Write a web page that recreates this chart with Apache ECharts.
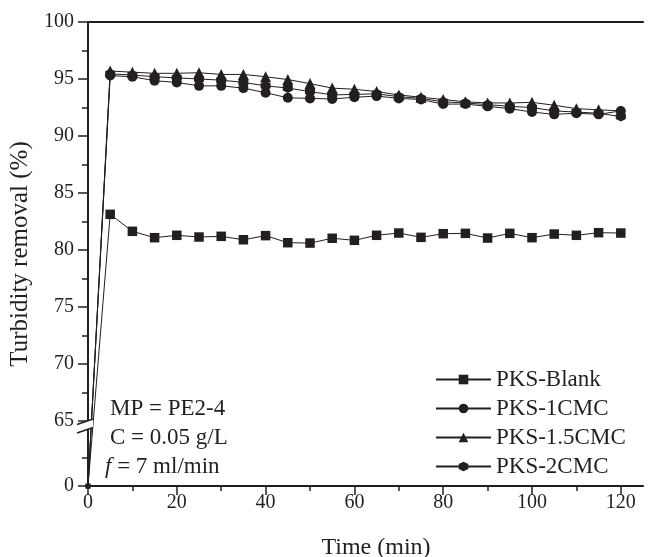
<!DOCTYPE html>
<html><head><meta charset="utf-8">
<script src="https://cdn.jsdelivr.net/npm/echarts@6/dist/echarts.min.js"></script>
<style>html,body{margin:0;padding:0;background:#fff}#c{width:656px;height:557px}</style>
</head><body><div id="c"></div>
<script>
// ---- data ----
const times = [0,5,10,15,20,25,30,35,40,45,50,55,60,65,70,75,80,85,90,95,100,105,110,115,120];
const blank = [0,83.13,81.64,81.08,81.29,81.14,81.2,80.9,81.26,80.64,80.61,81.03,80.85,81.29,81.49,81.11,81.43,81.46,81.05,81.46,81.08,81.4,81.29,81.52,81.49];
const cmc1  = [0,95.3,95.2,94.85,94.7,94.4,94.4,94.2,93.8,93.35,93.3,93.25,93.4,93.5,93.3,93.2,92.8,92.8,92.6,92.4,92.1,91.9,92.0,91.9,92.2];
const cmc15 = [0,95.7,95.6,95.5,95.5,95.55,95.4,95.4,95.2,94.95,94.6,94.2,94.1,93.9,93.6,93.4,93.2,93.0,92.9,92.9,92.95,92.7,92.4,92.3,92.2];
const cmc2  = [0,95.45,95.35,95.2,95.1,95.0,94.9,94.7,94.4,94.2,93.9,93.6,93.65,93.7,93.45,93.3,93.0,92.9,92.75,92.6,92.5,92.2,92.1,92.0,91.7];
const seriesNames = ['PKS-Blank','PKS-1CMC','PKS-1.5CMC','PKS-2CMC'];
const yTickLabels = [0,65,70,75,80,85,90,95,100];
const yMinorTicks = [28,67.5,72.5,77.5,82.5,87.5,92.5,97.5];
const xTickLabels = [0,20,40,60,80,100,120];
const xMinorTicks = [10,30,50,70,90,110];
const notes = ['MP = PE2-4','C = 0.05 g/L','{i|f} = 7 ml/min'];

// ---- axis break transform (0..65 compressed) ----
const BREAK = 65, LOWSPAN = 5.7;
const disp = v => v >= BREAK ? v : BREAK - LOWSPAN + v * LOWSPAN / BREAK;
const undisp = d => d >= BREAK - 1e-9 ? d : (d - (BREAK - LOWSPAN)) * BREAK / LOWSPAN;

const INK = '#231f20';
const FONT = '"Liberation Serif", "Times New Roman", serif';
const hexPath = 'path://M0,-10L8.66,-5L8.66,5L0,10L-8.66,5L-8.66,-5Z';

const allData = [blank, cmc1, cmc15, cmc2];
const symbols = ['rect','circle','triangle',hexPath];
const sizes = [9.5,10,11,10];

const chart = echarts.init(document.getElementById('c'), null, {renderer:'canvas'});
const yMin = disp(0);
const option = {
  animation:false,
  backgroundColor:'#fff',
  grid:{left:88, right:13, top:22, bottom:71, containLabel:false, outerBoundsMode:'none'},
  xAxis:[
    {type:'value', min:0, max:125, position:'bottom',
     axisLine:{show:true, onZero:false, lineStyle:{color:INK, width:2}},
     axisTick:{show:true, length:9, customValues:xTickLabels, lineStyle:{color:INK, width:1.5}},
     axisLabel:{show:true, customValues:xTickLabels, margin:7, color:INK, fontFamily:FONT, fontSize:20},
     splitLine:{show:false},
     name:'Time (min)', nameLocation:'middle', nameGap:50,
     nameTextStyle:{color:INK, fontFamily:FONT, fontSize:24, padding:[0,0,0,21]}},
    {type:'value', min:0, max:125, position:'bottom',
     axisLine:{show:false, onZero:false},
     axisTick:{show:true, length:5, customValues:xMinorTicks, lineStyle:{color:INK, width:1.5}},
     axisLabel:{show:false}, splitLine:{show:false}},
    {type:'value', min:0, max:125, position:'top',
     axisLine:{show:true, onZero:false, lineStyle:{color:INK, width:2}},
     axisTick:{show:false}, axisLabel:{show:false}, splitLine:{show:false}}
  ],
  yAxis:[
    {type:'value', min:yMin, max:100, position:'left',
     axisLine:{show:true, onZero:false, lineStyle:{color:INK, width:2}},
     axisTick:{show:true, length:10, customValues:yTickLabels.map(disp), lineStyle:{color:INK, width:1.5}},
     axisLabel:{show:true, customValues:yTickLabels.map(disp), margin:14, color:INK, fontFamily:FONT, fontSize:20,
       formatter:v => String(Math.round(undisp(v)))},
     splitLine:{show:false},
     name:'Turbidity removal (%)', nameLocation:'middle', nameGap:46,
     nameTextStyle:{color:INK, fontFamily:FONT, fontSize:25}},
    {type:'value', min:yMin, max:100, position:'left',
     axisLine:{show:false, onZero:false},
     axisTick:{show:true, length:6, customValues:yMinorTicks.map(disp), lineStyle:{color:INK, width:1.5}},
     axisLabel:{show:false}, splitLine:{show:false}}
  ],
  legend:{
    orient:'vertical', left:435, top:368, padding:0,
    itemWidth:55, itemHeight:12, itemGap:6,
    textStyle:{color:INK, fontFamily:FONT, fontSize:23, lineHeight:23},
    data:seriesNames
  },
  series: allData.map((arr, i) => ({
    name:seriesNames[i], type:'line', xAxisIndex:0, yAxisIndex:0,
    data: times.map((t, k) => ({value:[t, disp(arr[k])], symbolSize: t === 0 ? 5 : sizes[i]})),
    symbol:symbols[i], symbolSize:sizes[i],
    itemStyle:{color:INK}, lineStyle:{color:INK, width:1},
    z: 2 + i
  }))
};
chart.setOption(option);

// decorations positioned through the axis scale
const p65 = chart.convertToPixel({xAxisIndex:0, yAxisIndex:0}, [0, disp(65)]);
const bx = p65[0], by = p65[1];
const noteX = chart.convertToPixel({xAxisIndex:0}, 0);
chart.setOption({
  graphic:[
    {type:'polygon', z:100, shape:{points:[[bx-11,by+3.5],[bx+5,by-2],[bx+5,by+6.5],[bx-11,by+12]]}, style:{fill:'#fff'}},
    {type:'line', z:101, shape:{x1:bx-11, y1:by+3.5, x2:bx+5, y2:by-2}, style:{stroke:INK, lineWidth:1.5}},
    {type:'line', z:101, shape:{x1:bx-11, y1:by+12, x2:bx+5, y2:by+6.5}, style:{stroke:INK, lineWidth:1.5}},
    ...notes.map((t, i) => ({
      type:'text', z:100, x: noteX + (i === 2 ? 17 : 22), y: 409 + i * 28.8,
      style:{text:t, fill:INK, font:'23px ' + FONT, verticalAlign:'middle', align:'left',
        rich:{i:{fontStyle:'italic', fontSize:23, fontFamily:FONT, fill:INK}}}
    }))
  ]
});
</script>
</body></html>
